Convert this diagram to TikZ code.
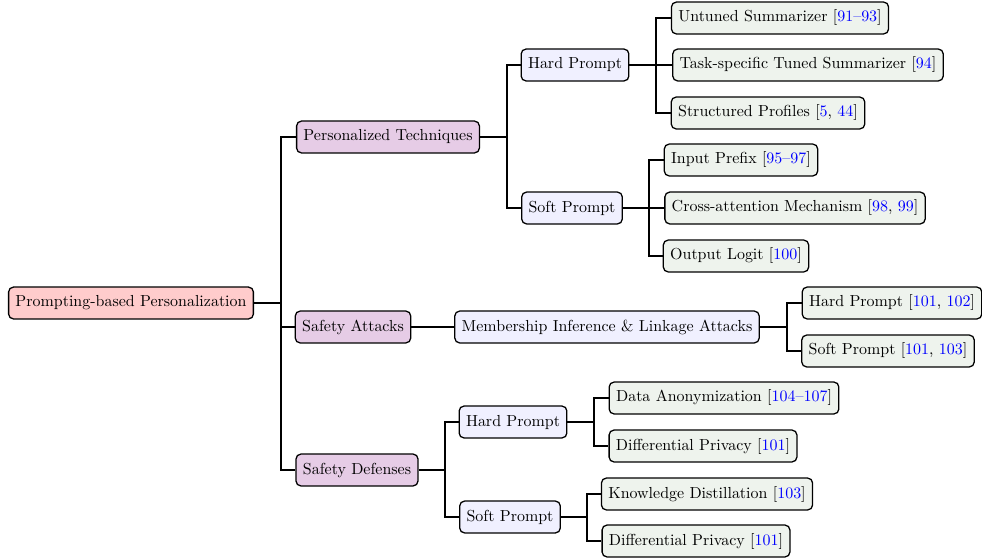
\documentclass[tikz,border=0pt]{standalone}
\usepackage{tikz}
\usetikzlibrary{calc}
\usepackage{amsmath}
\usepackage{amssymb}

\definecolor{rootfill}{RGB}{255,204,204}
\definecolor{catfill}{RGB}{230,204,230}
\definecolor{subfill}{RGB}{240,240,255}
\definecolor{leaffill}{RGB}{238,243,237}
\newcommand{\cit}[1]{[\textcolor{blue}{#1}]}

\begin{document}
\begin{tikzpicture}[x=0.022cm,y=-0.022cm,
  box/.style={draw,rounded corners=3pt,line width=0.8pt,inner xsep=4.3pt,minimum height=0.7cm},
  edge/.style={line width=0.65pt}]
  \useasboundingbox (0,0) rectangle (982,557);
  \path (131,303) node[box,fill=rootfill] (root) {Prompting-based Personalization}
  (388,137) node[box,fill=catfill] (pt) {Personalized Techniques}
  (353,327) node[box,fill=catfill] (sa) {Safety Attacks}
  (357,470) node[box,fill=catfill] (sd) {Safety Defenses};
  \path (575,65) node[box,fill=subfill] (pthp) {Hard Prompt}
  (572,208) node[box,fill=subfill] (ptsp) {Soft Prompt}
  (607,327) node[box,fill=subfill] (mi) {Membership Inference \& Linkage Attacks}
  (513,422) node[box,fill=subfill] (sdhp) {Hard Prompt}
  (510,517) node[box,fill=subfill] (sdsp) {Soft Prompt};
  \path (780,18) node[box,fill=leaffill] (l1) {Untuned Summarizer \cit{91--93}}
  (808,65) node[box,fill=leaffill] (l2) {Task-specific Tuned Summarizer \cit{94}}
  (768,113) node[box,fill=leaffill] (l3) {Structured Profiles [\textcolor{blue}{5}, \textcolor{blue}{44}]}
  (741,160) node[box,fill=leaffill] (l4) {Input Prefix \cit{95--97}}
  (795,208) node[box,fill=leaffill] (l5) {Cross-attention Mechanism [\textcolor{blue}{98}, \textcolor{blue}{99}]}
  (736,256) node[box,fill=leaffill] (l6) {Output Logit \cit{100}}
  (892,303) node[box,fill=leaffill] (l7) {Hard Prompt [\textcolor{blue}{101}, \textcolor{blue}{102}]}
  (888,351) node[box,fill=leaffill] (l8) {Soft Prompt [\textcolor{blue}{101}, \textcolor{blue}{103}]}
  (724,398) node[box,fill=leaffill] (l9) {Data Anonymization \cit{104--107}}
  (703,446) node[box,fill=leaffill] (l10) {Differential Privacy \cit{101}}
  (707,494) node[box,fill=leaffill] (l11) {Knowledge Distillation \cit{103}}
  (696,541) node[box,fill=leaffill] (l12) {Differential Privacy \cit{101}};
  % forks
  \coordinate (f0) at (281,303);
  \coordinate (f1) at (507,137);
  \coordinate (f2) at (656,65);
  \coordinate (f3) at (649,208);
  \coordinate (f4) at (787,327);
  \coordinate (f5) at (445,470);
  \coordinate (f6) at (594,422);
  \coordinate (f7) at (587,517);
  \draw[edge] (root.east) -- (f0) (f0) |- (pt.west) (f0) |- (sa.west) (f0) |- (sd.west);
  \draw[edge] (pt.east) -- (f1) (f1) |- (pthp.west) (f1) |- (ptsp.west);
  \draw[edge] (pthp.east) -- (f2) (f2) |- (l1.west) (f2) |- (l2.west) (f2) |- (l3.west);
  \draw[edge] (ptsp.east) -- (f3) (f3) |- (l4.west) (f3) |- (l5.west) (f3) |- (l6.west);
  \draw[edge] (sa.east) -- (mi.west);
  \draw[edge] (mi.east) -- (f4) (f4) |- (l7.west) (f4) |- (l8.west);
  \draw[edge] (sd.east) -- (f5) (f5) |- (sdhp.west) (f5) |- (sdsp.west);
  \draw[edge] (sdhp.east) -- (f6) (f6) |- (l9.west) (f6) |- (l10.west);
  \draw[edge] (sdsp.east) -- (f7) (f7) |- (l11.west) (f7) |- (l12.west);
\end{tikzpicture}
\end{document}
